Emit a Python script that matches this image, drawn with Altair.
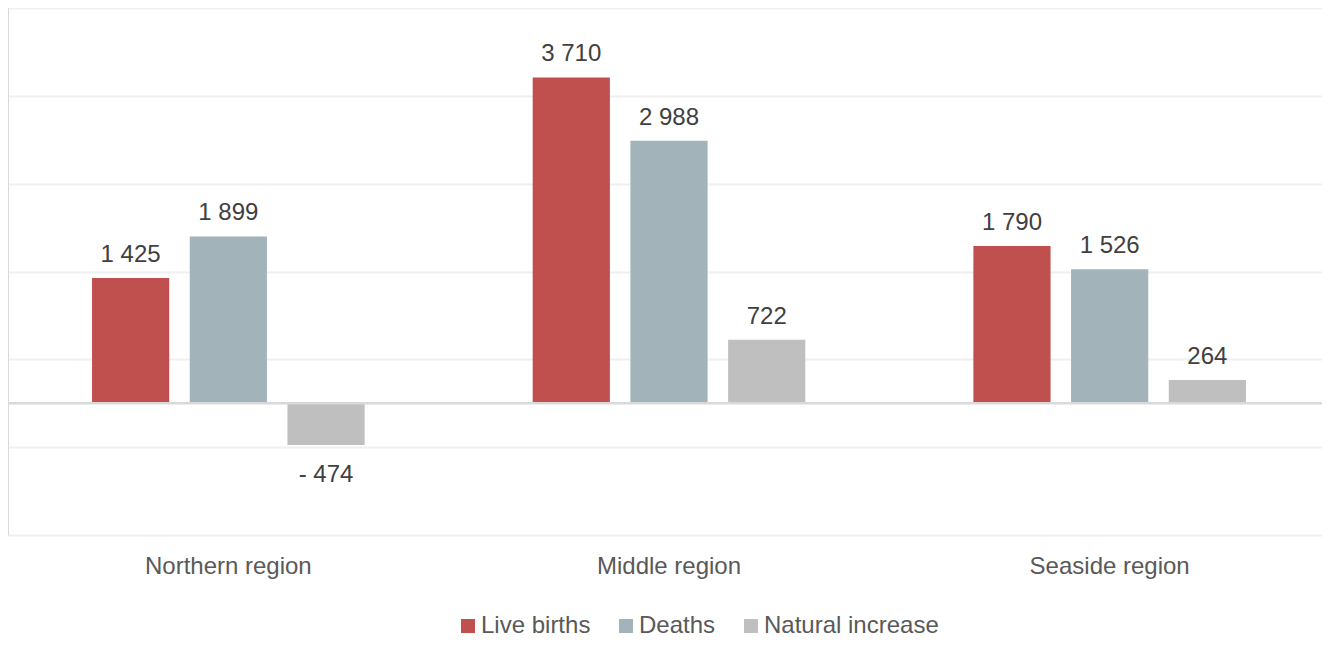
import altair as alt
import pandas as pd

regions = ["Northern region", "Middle region", "Seaside region"]
series = ["Live births", "Deaths", "Natural increase"]
live_births = [1425, 3710, 1790]
deaths = [1899, 2988, 1526]
natural_increase = [-474, 722, 264]
colors = ["#C0504D", "#A2B4BA", "#BFBFBF"]
grid_values = [-1500, -500, 500, 1500, 2500, 3500, 4500]


def fmt(v):
    s = f"{abs(v):,}".replace(",", " ")
    return ("- " + s) if v < 0 else s


rows = []
for i, r in enumerate(regions):
    for s, vals in zip(series, [live_births, deaths, natural_increase]):
        rows.append({"region": r, "series": s, "value": vals[i], "label": fmt(vals[i])})
df = pd.DataFrame(rows)

W, H = 1314, 527
FONT = "Liberation Sans"

y_scale = alt.Scale(domain=[-1500, 4500], nice=False, zero=False)
x_scale = alt.Scale(domain=regions, range=[0, 1322], paddingInner=0, paddingOuter=0)
x_enc = alt.X(
    "region:N", sort=regions, scale=x_scale,
    axis=alt.Axis(title=None, labelFontSize=24, labelColor="#595959", labelPadding=19,
                  ticks=False, domain=False, labelAngle=0, labelFont=FONT, grid=False),
)
xo_enc = alt.XOffset("series:N", sort=series, scale=alt.Scale(paddingInner=0.21, paddingOuter=0.86))
y_enc = alt.Y(
    "value:Q", scale=y_scale,
    axis=alt.Axis(values=grid_values, labels=False, ticks=False, domain=False, title=None,
                  grid=True, gridColor="#F0F0F0", gridWidth=2),
)
color_enc = alt.Color(
    "series:N", sort=series,
    scale=alt.Scale(domain=series, range=colors),
    legend=alt.Legend(title=None, orient="none", legendX=448, legendY=606, direction="horizontal",
                      symbolType="square", symbolSize=196, symbolStrokeWidth=0,
                      labelFontSize=24, labelColor="#595959", labelFont=FONT, labelLimit=400,
                      columnPadding=23, labelOffset=1),
)

base = alt.Chart(df)
bars = base.mark_bar().encode(x=x_enc, xOffset=xo_enc, y=y_enc, y2=alt.datum(0), color=color_enc)

txt_pos = base.transform_filter("datum.value >= 0").mark_text(
    baseline="alphabetic", dy=-16, fontSize=24, color="#404040", font=FONT
).encode(x=alt.X("region:N", sort=regions), xOffset=alt.XOffset("series:N", sort=series),
         y=alt.Y("value:Q", scale=y_scale), text="label:N")

txt_neg = base.transform_filter("datum.value < 0").mark_text(
    baseline="alphabetic", dy=37, fontSize=24, color="#404040", font=FONT
).encode(x=alt.X("region:N", sort=regions), xOffset=alt.XOffset("series:N", sort=series),
         y=alt.Y("value:Q", scale=y_scale), text="label:N")

zdf = pd.DataFrame({"z": [0]})
zero_rule = alt.Chart(zdf).mark_rule(color="#D9D9D9", strokeWidth=2.5).encode(
    y=alt.Y("z:Q", scale=y_scale)
)
left_rule = alt.Chart(zdf).mark_rule(color="#D9D9D9", strokeWidth=2).encode(
    x=alt.value(0), y=alt.value(0), y2=alt.value(H)
)

chart = alt.layer(bars, zero_rule, txt_pos, txt_neg, left_rule).properties(
    width=W, height=H,
    padding={"left": 0, "top": 0, "right": 0, "bottom": 105},
    autosize=alt.AutoSizeParams(type="none"),
).configure_view(stroke=None).configure(font=FONT)

chart.save("out.html", embed_options={"renderer": "svg", "actions": False})
